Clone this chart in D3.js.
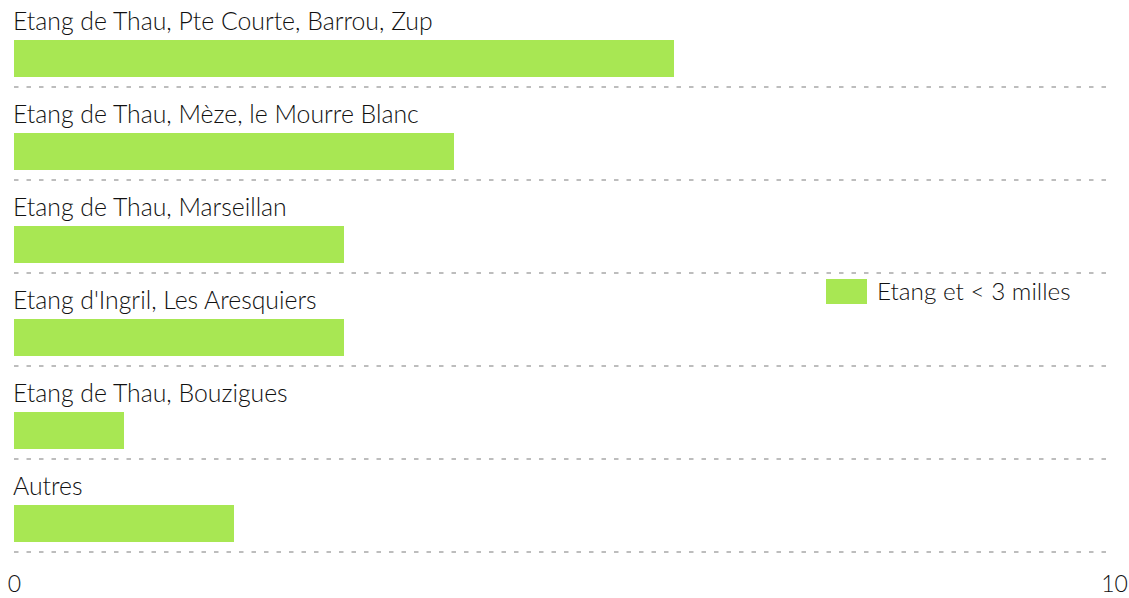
<!DOCTYPE html>
<html>
<head>
<meta charset="utf-8">
<script src="https://cdn.jsdelivr.net/npm/d3@7"></script>
<style>
  body { margin: 0; background: #fff; }
  svg text { font-family: "Source Sans Pro", Lato, "Open Sans", sans-serif; fill: #111; }
</style>
</head>
<body>
<div id="chart"></div>
<script>
// valeurs
const categories = [
    "Etang de Thau, Pte Courte, Barrou, Zup",
    "Etang de Thau, Mèze, le Mourre Blanc",
    "Etang de Thau, Marseillan",
    "Etang d'Ingril, Les Aresquiers",
    "Etang de Thau, Bouzigues",
    "Autres"
];
const values = [6, 4, 3, 3, 1, 2];
const seriesName = "Etang et < 3 milles";
const xTickValues = [0, 10];

const width = 1129,
    height = 598,
    leftMargin = 14,
    rightEdge = 1114,
    rowStep = 93;

const svg = d3.select('#chart')
    .append('svg')
    .attr('width', width)
    .attr('height', height);

const scaleX = d3.scaleLinear()
    .domain([0, 10])
    .range([leftMargin, rightEdge]);

const scaleY = d3.scaleBand()
    .domain(categories)
    .range([0, rowStep * categories.length]);

const rows = svg.selectAll('g.row')
    .data(categories)
    .enter()
    .append('g')
    .attr('class', 'row')
    .attr('transform', d => `translate(0, ${scaleY(d)})`);

rows.append('text')
    .attr('x', leftMargin - 1)
    .attr('y', 30)
    .style('font-size', '24.8px')
    .style('font-weight', 300)
    .text(d => d);

rows.append('rect')
    .attr('x', scaleX(0))
    .attr('y', 40)
    .attr('width', (d, i) => scaleX(values[i]) - scaleX(0))
    .attr('height', 37)
    .attr('fill', '#a8e753');

rows.append('line')
    .attr('x1', scaleX(0))
    .attr('x2', 1108)
    .attr('y1', 87)
    .attr('y2', 87)
    .attr('stroke', '#bdbdbd')
    .attr('stroke-width', 2)
    .attr('stroke-dasharray', '4.5,8');

// axe du bas, sans ligne ni graduations
const xAxis = d3.axisBottom(scaleX).tickValues(xTickValues).tickSize(0).tickPadding(0);
const axisG = svg.append('g')
    .attr('transform', 'translate(0, 576)')
    .call(xAxis);
axisG.select('.domain').remove();
axisG.selectAll('text')
    .style('font-size', '23px')
    .style('font-weight', 300)
    .attr('fill', '#111');

// légende
const legend = svg.append('g').attr('transform', 'translate(826, 279)');
legend.append('rect')
    .attr('width', 41)
    .attr('height', 25)
    .attr('fill', '#a8e753');
legend.append('text')
    .attr('x', 51)
    .attr('y', 21)
    .style('font-size', '24.3px')
    .style('font-weight', 300)
    .text(seriesName);
</script>
</body>
</html>
